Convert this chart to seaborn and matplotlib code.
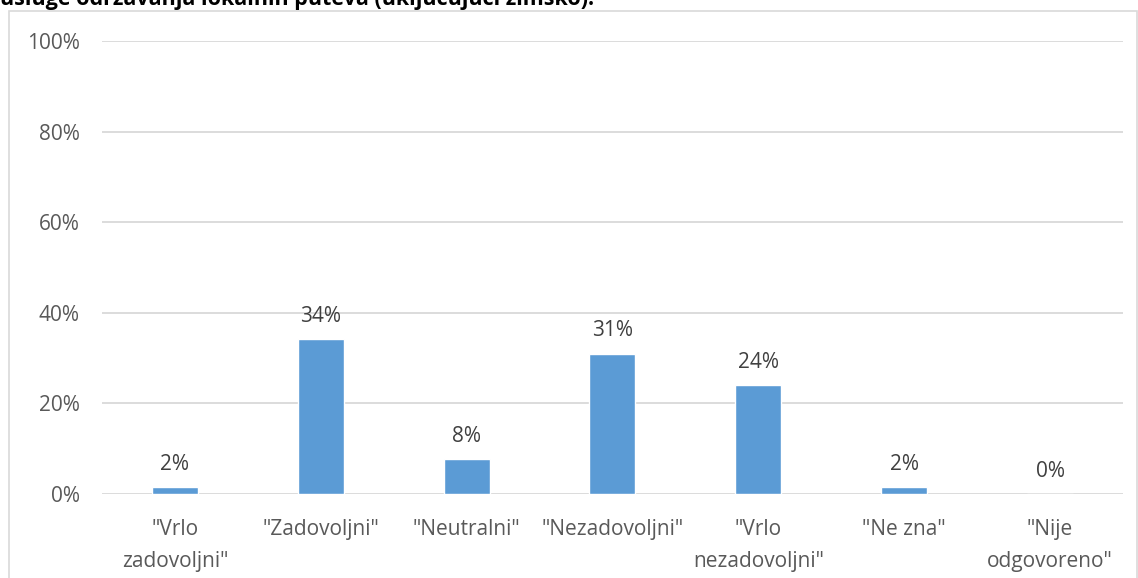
import matplotlib
matplotlib.use("Agg")
import matplotlib.pyplot as plt
import matplotlib.patches as patches
import seaborn as sns
import pandas as pd

# answers and shares (percent)
categories = ['"Vrlo\nzadovoljni"', '"Zadovoljni"', '"Neutralni"', '"Nezadovoljni"',
              '"Vrlo\nnezadovoljni"', '"Ne zna"', '"Nije\nodgovoreno"']
shares = [1.5, 34.2, 7.7, 31.0, 24.0, 1.5, 0.0]
labels = ["2%", "34%", "8%", "31%", "24%", "2%", "0%"]
yticks = [0, 20, 40, 60, 80, 100]

title = "usluge održavanja lokalnih puteva (uključujući zimsko):"

df = pd.DataFrame({"odgovor": categories, "udio": shares})

sns.set_style("white")
plt.rcParams['font.family'] = ['Open Sans', 'DejaVu Sans']

fig = plt.figure(figsize=(11.38, 5.78), dpi=100)
ax = fig.add_axes([0.0896, 0.1453, 0.8972, 0.7837])

sns.barplot(data=df, x="odgovor", y="udio", color="#5B9BD5", width=0.315,
            saturation=1, ax=ax)

ax.set_ylim(0, 100)
ax.set_yticks(yticks)
ax.set_yticklabels([f"{t}%" for t in yticks])
ax.grid(axis='y', color='#D9D9D9', linewidth=1.3)
ax.set_axisbelow(True)
for s in ["top", "right", "left", "bottom"]:
    ax.spines[s].set_visible(False)
ax.tick_params(axis='both', length=0, labelsize=15, colors='#595959')
ax.tick_params(axis='y', pad=16)
ax.tick_params(axis='x', pad=18)
ax.set_xlabel("")
ax.set_ylabel("")
for t in ax.get_xticklabels():
    t.set_linespacing(1.7)

# value labels above bars
for i, (v, lab) in enumerate(zip(shares, labels)):
    ax.annotate(lab, (i, v), xytext=(0, 9), textcoords="offset points",
                ha="center", va="bottom", fontsize=15, color="#404040")

# chart frame like the office export
fig.patches.append(patches.Rectangle((9 / 1138, -0.01), 1128 / 1138, 1 - 11 / 578 + 0.01,
                                     transform=fig.transFigure, fill=False,
                                     edgecolor='#D9D9D9', linewidth=1.2))

# title line, cut off at the top edge
fig.text(0.0, 1 - 5 / 578, title, fontsize=15.5, fontweight="bold", color="black",
         ha="left", va="baseline")

fig.savefig("out.png", dpi=100)
